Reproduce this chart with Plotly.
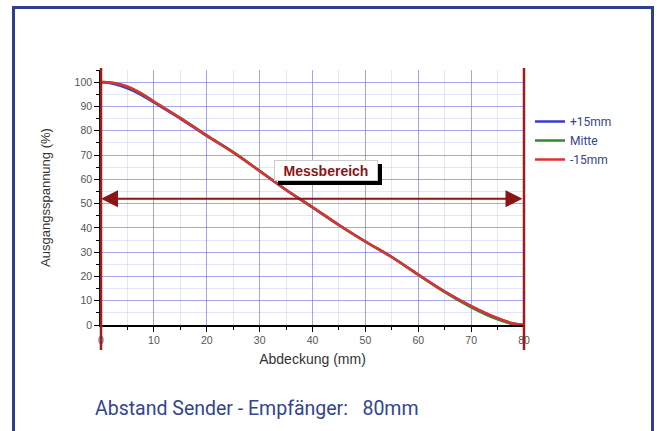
import plotly.graph_objects as go

# ---- data ----
x_mm = [0, 1, 2.5, 5, 7.5, 10, 15, 20, 25, 30, 35, 40, 45, 50, 55, 60, 65, 70, 75, 78, 80]
plus15 = [100, 99.8, 99.2, 97.4, 94.9, 91.6, 85.0, 77.8, 71.1, 63.4, 55.6, 48.4, 41.2, 34.4, 28.0, 20.8, 13.8, 7.8, 2.8, 0.6, 0]
mitte = [100, 100, 99.6, 98.1, 95.5, 92.0, 85.3, 78.1, 71.2, 63.5, 55.7, 48.5, 41.1, 34.3, 27.9, 20.6, 13.5, 7.3, 2.3, 0.3, 0]
minus15 = [100, 100, 99.7, 98.2, 95.5, 92.0, 85.2, 78.0, 71.0, 63.4, 55.6, 48.6, 41.2, 34.4, 28.0, 20.8, 13.8, 7.8, 2.8, 0.6, 0]
series_names = ["+15mm", "Mitte", "-15mm"]
series_colors = ["#3a3ad0", "#2e8b2e", "#e03030"]
x_ticks = [0, 10, 20, 30, 40, 50, 60, 70, 80]
y_ticks = [0, 10, 20, 30, 40, 50, 60, 70, 80, 90, 100]
range_level = 52
label_text = "Messbereich"
footer_text = "Abstand Sender - Empfänger:\u00a0\u00a0\u00a080mm"

DARKRED = "#8b1515"
TEXTBLUE = "#34448f"
NARROW = "Roboto, sans-serif"

fig = go.Figure()
for name, ys, col in zip(series_names, [plus15, mitte, minus15], series_colors):
    fig.add_trace(go.Scatter(x=x_mm, y=ys, mode="lines", name=name,
                             line=dict(color=col, width=2.5, shape="spline")))

# plot area geometry: x 101..524, y 70..325
L, R, T, B = 101, 524, 70, 325
W, H = R - L, B - T
def px(xp):
    return (xp - L) / W
def py(yp):
    return (B - yp) / H

grid_major = "rgba(100,100,230,0.5)"
grid_minor = "rgba(160,160,235,0.28)"

fig.update_layout(
    width=657, height=431,
    margin=dict(l=L, r=657 - R, t=T, b=431 - B, autoexpand=False),
    paper_bgcolor="white", plot_bgcolor="white",
    font=dict(family="Arial, Liberation Sans, sans-serif", color="#444"),
    xaxis=dict(range=[0, 80], tickvals=x_ticks, showgrid=True, gridcolor=grid_major, gridwidth=1,
               minor=dict(dtick=5, showgrid=True, gridcolor=grid_minor, ticks="outside", ticklen=3,
                          tickcolor="black"),
               ticks="outside", ticklen=5, tickcolor="black", showline=True, linecolor="black",
               linewidth=1.5, zeroline=False, tickfont=dict(size=10.5, color="#555"), automargin=False,
               title=dict(text="Abdeckung (mm)", font=dict(size=14, color="#333"), standoff=9)),
    yaxis=dict(range=[0, 105], tickvals=y_ticks, showgrid=True, gridcolor=grid_major, gridwidth=1,
               minor=dict(dtick=5, showgrid=True, gridcolor=grid_minor, ticks="outside", ticklen=3,
                          tickcolor="black"),
               ticks="outside", ticklen=5, tickcolor="black", showline=True, linecolor="black",
               linewidth=1.5, zeroline=False, tickfont=dict(size=10.5, color="#555"), automargin=False,
               title=dict(text="Ausgangsspannung (%)", font=dict(size=13, color="#333"), standoff=21)),
    legend=dict(x=px(530), y=py(107), xanchor="left", yanchor="top", bgcolor="rgba(0,0,0,0)",
                font=dict(family=NARROW, size=12, color=TEXTBLUE), tracegroupgap=0,
                itemwidth=30),
    showlegend=True,
)

# red vertical boundary lines
for xv in (0, 1):
    fig.add_shape(type="line", xref="paper", yref="paper", x0=xv, x1=xv, y0=py(350), y1=py(68),
                  line=dict(color="#a01c1c", width=2.5), layer="above")

# outer blue frame
fig.add_shape(type="rect", xref="paper", yref="paper", x0=px(13.5), x1=px(652.5), y0=py(445), y1=py(7.5),
              line=dict(color="#2f3f8e", width=3), fillcolor="rgba(0,0,0,0)", layer="below")

# measuring range arrow
fig.add_annotation(x=0, y=range_level, ax=80, ay=range_level, xref="x", yref="y", axref="x", ayref="y",
                   text="", showarrow=True, arrowhead=2, startarrowhead=2, arrowside="end+start",
                   arrowsize=1.7, startarrowsize=1.7, arrowwidth=2, arrowcolor=DARKRED, standoff=0,
                   startstandoff=0)

# label with shadow
lx, ly = 42.6, 63.6
fig.add_annotation(x=lx, y=ly, xref="x", yref="y", text="\u00a0", showarrow=False,
                   font=dict(size=14, color="black"),
                   bgcolor="black", bordercolor="black", width=100, height=17, xshift=4, yshift=-4)
fig.add_annotation(x=lx, y=ly, xref="x", yref="y", text=label_text, showarrow=False,
                   font=dict(size=14, color=DARKRED, family="Arial, sans-serif", weight="bold"),
                   bgcolor="white", bordercolor="#cccccc", borderwidth=1, width=100, height=17)

# footer
fig.add_annotation(x=px(93), y=py(408), xref="paper", yref="paper", xanchor="left", yanchor="middle",
                   text=footer_text, showarrow=False,
                   font=dict(family=NARROW, size=19.5, color=TEXTBLUE))

fig.write_html("out.html", config={"displayModeBar": False},
               post_script="document.body.style.margin='0';")
